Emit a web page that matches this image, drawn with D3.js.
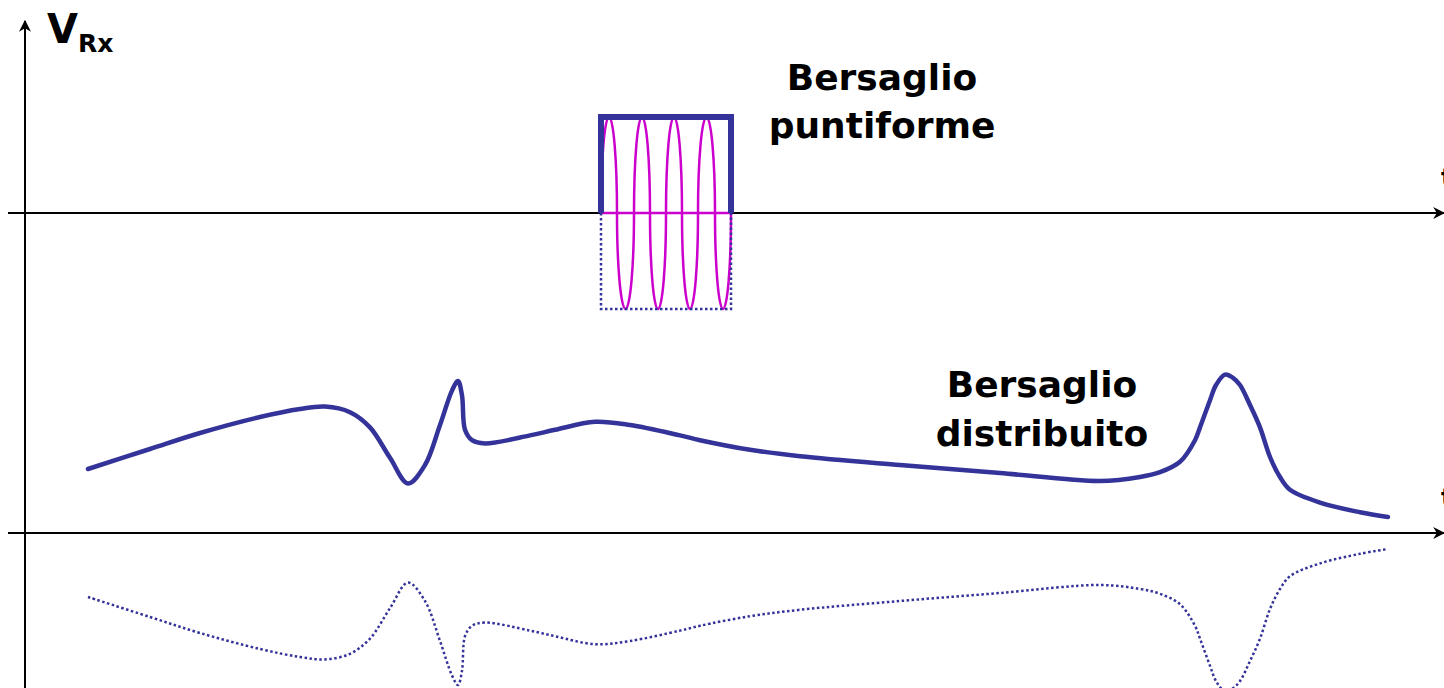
<!DOCTYPE html>
<html>
<head>
<meta charset="utf-8">
<script src="https://cdn.jsdelivr.net/npm/d3@7"></script>
<style>
  body { margin: 0; background: #fff; }
  svg { display: block; }
  text { font-family: "DejaVu Sans", Verdana, sans-serif; font-weight: bold; }
</style>
</head>
<body>
<div id="chart"></div>
<script>
// distributed target echo (time in us, amplitude in V)
var echoT = [6.3, 12.5, 17.5, 23.5, 27.5, 30, 32.5, 34.5, 36.5, 38.3, 40, 41.5, 42.7, 43.3, 43.7, 44,
    44.7, 46, 50.5, 53, 57, 60.5, 65.5, 67.5, 72.5, 77.5, 87.5, 97.5, 107.5, 111.5, 113.5, 115.5,
    117, 117.5, 118.5, 119.1, 120, 120.8, 121.5, 122.5, 123.5, 124.5, 125.5, 126.5, 129.5, 133.5, 136.3];
var echoV = [0.40, 0.525, 0.625, 0.725, 0.775, 0.79, 0.755, 0.66, 0.47, 0.31, 0.425, 0.675, 0.89, 0.95, 0.86, 0.645,
    0.58, 0.56, 0.61, 0.645, 0.695, 0.675, 0.61, 0.58, 0.52, 0.48, 0.425, 0.375, 0.325, 0.35, 0.38, 0.445,
    0.58, 0.66, 0.83, 0.925, 0.99, 0.97, 0.925, 0.80, 0.66, 0.475, 0.35, 0.27, 0.19, 0.13, 0.10];

// point target pulse: carrier zero crossings and half-cycle sign
var carrierZero = [57.6, 59.2, 60.9, 62.5, 64.1, 65.7, 67.3, 69.0, 70.6];
var carrierSign = [1, -1, 1, -1, 1, -1, 1, -1];

var labelsTop = ["Bersaglio", "puntiforme"];
var labelsLow = ["Bersaglio", "distribuito"];

var width = 1444, height = 688;
var blue = "#333399", magenta = "#cc00cc";

var svg = d3.select("#chart")
    .append("svg")
    .attr("width", width)
    .attr("height", height);

var x = d3.scaleLinear().domain([0, 142]).range([25, 1445]);
var yTop = d3.scaleLinear().domain([-1, 1]).range([309, 117]);
var yLow = d3.scaleLinear().domain([-1, 1]).range([693, 373]);

// arrow marker
svg.append("defs").append("marker")
    .attr("id", "arrow")
    .attr("viewBox", "0 0 10 10")
    .attr("refX", 9).attr("refY", 5)
    .attr("markerWidth", 6).attr("markerHeight", 6)
    .attr("orient", "auto")
    .append("path")
    .attr("d", "M0,0 L10,5 L0,10 L3,5 Z")
    .attr("fill", "#000");

// axes
svg.append("line")
    .attr("x1", x(0)).attr("y1", height)
    .attr("x2", x(0)).attr("y2", 21)
    .attr("stroke", "#000").attr("stroke-width", 2)
    .attr("marker-end", "url(#arrow)");
[yTop(0), yLow(0)].forEach(function (yy) {
    svg.append("line")
        .attr("x1", 8).attr("y1", yy)
        .attr("x2", width).attr("y2", yy)
        .attr("stroke", "#000").attr("stroke-width", 2)
        .attr("marker-end", "url(#arrow)");
});
// axis labels at right edge (cut off in the original slide)
[yTop(0), yLow(0)].forEach(function (yy) {
    svg.append("text")
        .attr("x", 1441).attr("y", yy - 27)
        .attr("font-size", 24)
        .text("t");
});

// V_Rx label
var vl = svg.append("text").attr("x", 47).attr("y", 43).attr("font-size", 40);
vl.append("tspan").text("V");
vl.append("tspan").attr("font-size", 25).attr("dy", 9).text("Rx");

// point target: carrier as half-ellipse lobes
svg.append("line")
    .attr("x1", x(carrierZero[0])).attr("y1", yTop(0))
    .attr("x2", x(carrierZero[carrierZero.length - 1])).attr("y2", yTop(0))
    .attr("stroke", magenta).attr("stroke-width", 2.5);
var cp = "M" + x(carrierZero[0]) + "," + yTop(0);
carrierSign.forEach(function (s, i) {
    var rx = (x(carrierZero[i + 1]) - x(carrierZero[i])) / 2;
    var ry = Math.abs(yTop(s) - yTop(0));
    cp += "A" + rx + "," + ry + " 0 0 " + (s > 0 ? 1 : 0) + " " + x(carrierZero[i + 1]) + "," + yTop(0);
});
svg.append("path")
    .attr("d", cp)
    .attr("fill", "none")
    .attr("stroke", magenta)
    .attr("stroke-width", 2.5);

// envelope: dotted lower half, solid upper half
var x0 = x(carrierZero[0]), x1 = x(carrierZero[carrierZero.length - 1]);
svg.append("path")
    .attr("d", "M" + x0 + "," + yTop(0) + "V" + yTop(-1) + "H" + x1 + "V" + yTop(0))
    .attr("fill", "none").attr("stroke", blue)
    .attr("stroke-width", 2.5).attr("stroke-dasharray", "2.5,2.5");
svg.append("path")
    .attr("d", "M" + x0 + "," + yTop(0) + "V" + yTop(1) + "H" + x1 + "V" + yTop(0))
    .attr("fill", "none").attr("stroke", blue)
    .attr("stroke-width", 6);

// distributed target echo and its mirror
var echo = echoT.map(function (t, i) { return [t, echoV[i]]; });
var curve = d3.curveCatmullRom.alpha(0.5);
svg.append("path")
    .datum(echo)
    .attr("fill", "none")
    .attr("stroke", blue)
    .attr("stroke-width", 4.5)
    .attr("stroke-linecap", "round")
    .attr("d", d3.line()
        .curve(curve)
        .x(function (d) { return x(d[0]); })
        .y(function (d) { return yLow(d[1]); }));
svg.append("path")
    .datum(echo)
    .attr("fill", "none")
    .attr("stroke", blue)
    .attr("stroke-width", 2.5)
    .attr("stroke-dasharray", "2.5,2.5")
    .attr("d", d3.line()
        .curve(curve)
        .x(function (d) { return x(d[0]); })
        .y(function (d) { return yLow(-d[1]); }));

// labels
svg.append("g").selectAll("text")
    .data(labelsTop).enter().append("text")
    .attr("x", 882).attr("y", function (d, i) { return 90 + i * 48; })
    .attr("text-anchor", "middle")
    .attr("font-size", 36)
    .text(function (d) { return d; });
svg.append("g").selectAll("text")
    .data(labelsLow).enter().append("text")
    .attr("x", 1042).attr("y", function (d, i) { return 397 + i * 49; })
    .attr("text-anchor", "middle")
    .attr("font-size", 36)
    .text(function (d) { return d; });
</script>
</body>
</html>
